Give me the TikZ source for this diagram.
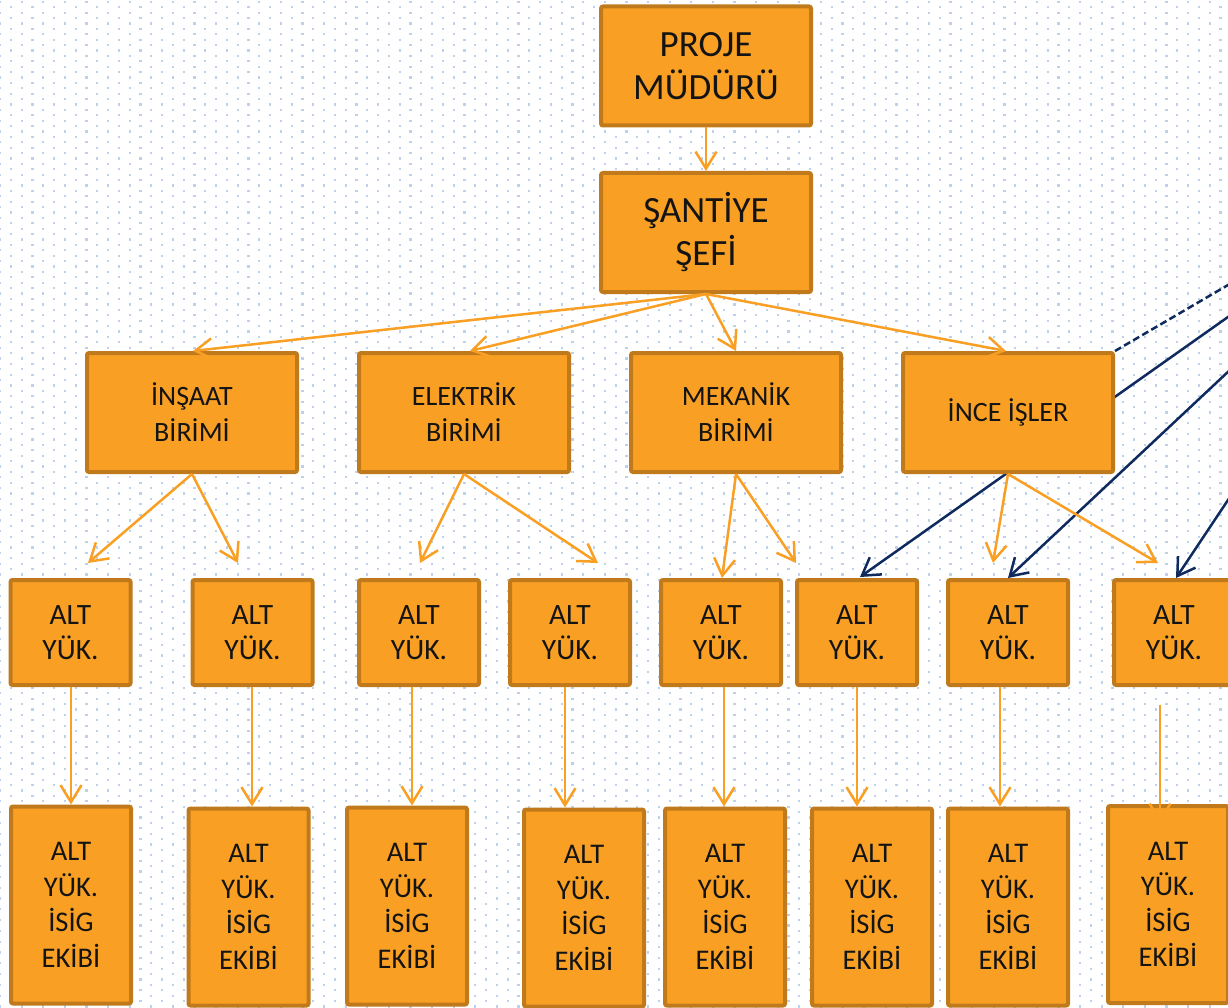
\documentclass[tikz,border=0pt]{standalone}
\usepackage{fontspec}
\setmainfont{Carlito}
\usetikzlibrary{arrows.meta}
\definecolor{boxfill}{HTML}{F9A024}
\definecolor{boxedge}{HTML}{C07A1C}
\definecolor{navyc}{HTML}{0E2A5E}
\definecolor{dotc}{HTML}{BDD1EA}
\definecolor{txt}{HTML}{141414}
\begin{document}
\begin{tikzpicture}[x=1pt,y=-1pt,
  box/.style={draw=boxedge, fill=boxfill, line width=4pt, rounded corners=2pt, align=center, text=txt, inner sep=0pt},
  bigbox/.style={box, minimum width=210pt, minimum height=119pt, font=\fontsize{37}{43}\selectfont},
  unitbox/.style={box, minimum width=210pt, minimum height=119pt, font=\fontsize{28}{36}\selectfont},
  altbox/.style={box, minimum width=120pt, minimum height=105pt, font=\fontsize{29.5}{35}\selectfont},
  isgbox/.style={box, minimum width=120pt, minimum height=197pt, font=\fontsize{28.5}{35.5}\selectfont},
  oarr/.style={draw=boxfill, line width=2.5pt, -{Straight Barb[length=17pt,width=21pt]}},
  narr/.style={draw=navyc, line width=2.5pt, -{Straight Barb[length=17pt,width=21pt]}},
  dotrow/.style={draw=dotc, line width=2.2pt, dash pattern=on 2.2pt off 19.4pt},
]
\useasboundingbox (0,0) rectangle (1228,1008);
\clip (0,0) rectangle (1228,1008);
\fill[white] (0,0) rectangle (1228,1008);
% dotted background
\foreach \k in {0,...,187} {
  \pgfmathsetmacro{\yy}{\k*5.4+2}
  \pgfmathsetmacro{\ph}{mod(\k,2)*10.8}
  \draw[dotrow, dash phase=\ph pt] (-1,\yy) -- (1230,\yy);
}
% free ends off the right edge
\coordinate (n1) at (1240,308.5);
\coordinate (n2) at (1240,360.6);
\coordinate (n3) at (1240,482);
\coordinate (n4) at (1240,278);

% boxes
\node[bigbox] (pm) at (706,66) {PROJE\\MÜDÜRÜ};
\node[bigbox] (sef) at (706,232.5) {ŞANTİYE\\ŞEFİ};
\node[unitbox] (ins) at (192,412.5) {İNŞAAT\\BİRİMİ};
\node[unitbox] (ele) at (464,412.5) {ELEKTRİK\\BİRİMİ};
\node[unitbox] (mek) at (736,412.5) {MEKANİK\\BİRİMİ};

\coordinate (t6) at (860,577);
\draw[narr] (n1) -- (t6);
\node[unitbox] (inc) at (1008,412.5) {İNCE İŞLER};

\node[altbox] (a1) at (70.5,632.5) {ALT\\YÜK.};
\node[altbox] (a2) at (252.5,632.5) {ALT\\YÜK.};
\node[altbox] (a3) at (419,632.5) {ALT\\YÜK.};
\node[altbox] (a4) at (570,632.5) {ALT\\YÜK.};
\node[altbox] (a5) at (721,632.5) {ALT\\YÜK.};
\node[altbox] (a6) at (857,632.5) {ALT\\YÜK.};
\node[altbox] (a7) at (1008,632.5) {ALT\\YÜK.};
\node[altbox] (a8) at (1174,632.5) {ALT\\YÜK.};

\node[isgbox] (b1) at (71,905) {ALT\\YÜK.\\İSİG\\EKİBİ};
\node[isgbox] (b2) at (248.5,907) {ALT\\YÜK.\\İSİG\\EKİBİ};
\node[isgbox] (b3) at (407,906) {ALT\\YÜK.\\İSİG\\EKİBİ};
\node[isgbox] (b4) at (584,908) {ALT\\YÜK.\\İSİG\\EKİBİ};
\node[isgbox] (b5) at (725,907) {ALT\\YÜK.\\İSİG\\EKİBİ};
\node[isgbox] (b6) at (872,907) {ALT\\YÜK.\\İSİG\\EKİBİ};
\node[isgbox] (b7) at (1008,907) {ALT\\YÜK.\\İSİG\\EKİBİ};
\node[isgbox] (b8) at (1168,904.5) {ALT\\YÜK.\\İSİG\\EKİBİ};

% navy connectors
\draw[narr] (n2) -- (a7.north);
\draw[narr] (n3) -- ([xshift=2pt]a8.north);
\draw[draw=navyc, line width=2.5pt, dash pattern=on 7pt off 3.5pt] (inc.north east) -- (n4);

% orange connectors, top
\draw[oarr] (pm.south) -- (sef.north);
\draw[oarr] (sef.south) -- ([xshift=1pt]ins.north);
\draw[oarr] (sef.south) -- ([xshift=6pt]ele.north);
\draw[oarr] (sef.south) -- (mek.north);
\draw[oarr] (sef.south) -- ([xshift=-2pt]inc.north);

% unit -> subcontractor (free ends)
\coordinate (e1) at (88,563);
\coordinate (e2) at (238,563);
\coordinate (e3) at (420,563);
\coordinate (e4) at (598,563);
\coordinate (e5) at (796,563);
\coordinate (e6) at (993,563);
\coordinate (e7) at (1158,563);
\draw[oarr] (ins.south) -- (e1);
\draw[oarr] (ins.south) -- (e2);
\draw[oarr] (ele.south) -- (e3);
\draw[oarr] (ele.south) -- (e4);
\draw[oarr] (mek.south) -- ([xshift=1pt]a5.north);
\draw[oarr] (mek.south) -- (e5);
\draw[oarr] (inc.south) -- (e6);
\draw[oarr] (inc.south) -- (e7);

% subcontractor -> safety team
\draw[oarr] (71,0 |- a1.south) -- (71,0 |- b1.north);
\draw[oarr] (252,0 |- a2.south) -- (252,0 |- b2.north);
\draw[oarr] (412,0 |- a3.south) -- (412,0 |- b3.north);
\draw[oarr] (565,0 |- a4.south) -- (565,0 |- b4.north);
\draw[oarr] (724,0 |- a5.south) -- (724,0 |- b5.north);
\draw[oarr] (857,0 |- a6.south) -- (857,0 |- b6.north);
\draw[oarr] (1000,0 |- a7.south) -- (1000,0 |- b7.north);
\coordinate (s8) at (1160,705);
\coordinate (e8) at (1160,823);
\draw[oarr] (s8) -- (e8);
\end{tikzpicture}
\end{document}
